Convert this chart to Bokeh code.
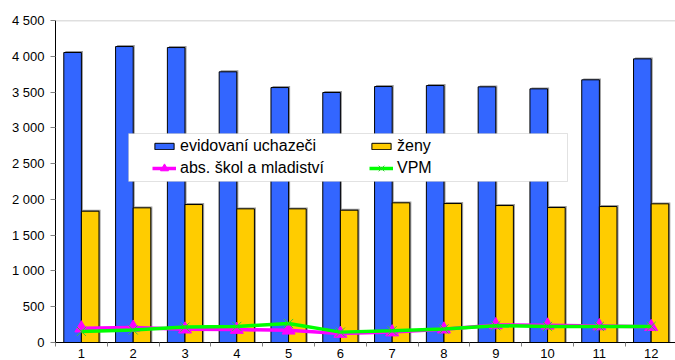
from bokeh.plotting import figure
from bokeh.models import FixedTicker, Legend, LegendItem, Span, ColumnDataSource, BoxAnnotation
from bokeh.embed import file_html
from bokeh.resources import INLINE
from bokeh.transform import dodge

months = [1, 2, 3, 4, 5, 6, 7, 8, 9, 10, 11, 12]
uchazeci = [4053, 4136, 4122, 3783, 3563, 3494, 3577, 3591, 3573, 3545, 3671, 3964]
zeny = [1835, 1882, 1928, 1868, 1868, 1849, 1952, 1942, 1914, 1886, 1900, 1938]
abs_skol = [200, 210, 185, 180, 170, 125, 145, 185, 245, 240, 230, 220]
vpm = [155, 175, 215, 225, 265, 145, 165, 190, 235, 225, 225, 225]
y_ticks = [0, 500, 1000, 1500, 2000, 2500, 3000, 3500, 4000, 4500]
y_tick_labels = ["0", "500", "1 000", "1 500", "2 000", "2 500", "3 000", "3 500", "4 000", "4 500"]
x_tick_labels = [str(m) for m in months]

src = ColumnDataSource(dict(
    m=months, u=uchazeci, z=zeny, a=abs_skol, v=vpm,
    us=[x + 20 for x in uchazeci], zs=[x + 20 for x in zeny],
))

FONT = "Liberation Sans"

p = figure(width=675, height=360, x_range=(0.5, 12.47), y_range=(0, 4500),
           output_backend="svg", toolbar_location=None,
           min_border_left=55, min_border_right=0, min_border_top=20, min_border_bottom=18)
p.outline_line_color = None
p.xgrid.grid_line_color = None
p.ygrid.grid_line_color = None
p.background_fill_color = "white"
p.border_fill_color = "white"

top_line = Span(location=4500, dimension="width", line_color="#c0c0c0", line_width=1.5)
p.add_layout(top_line)

# shadows
p.vbar(x=dodge("m", -0.14, range=p.x_range), top="us", width=0.34, source=src,
       fill_color="#9a9a9a", line_color=None)
p.vbar(x=dodge("m", 0.20, range=p.x_range), top="zs", width=0.34, source=src,
       fill_color="#9a9a9a", line_color=None)

b1 = p.vbar(x=dodge("m", -0.17, range=p.x_range), top="u", width=0.34, source=src,
            fill_color="#3366FF", line_color="black", line_width=1)
b2 = p.vbar(x=dodge("m", 0.17, range=p.x_range), top="z", width=0.34, source=src,
            fill_color="#FFCC00", line_color="black", line_width=1)

l1 = p.line(x="m", y="a", source=src, line_color="#FF00FF", line_width=3.5)
m1 = p.scatter(x="m", y="a", source=src, marker="triangle", size=13,
               fill_color="#FF00FF", line_color="#FF00FF")
l2 = p.line(x="m", y="v", source=src, line_color="#00FF00", line_width=3.5)
m2 = p.scatter(x="m", y="v", source=src, marker="x", size=13,
               line_color="#33cc33", line_width=1)

# axes
p.yaxis.ticker = FixedTicker(ticks=y_ticks)
p.yaxis.major_label_overrides = {t: l for t, l in zip(y_ticks, y_tick_labels)}
p.yaxis.axis_line_color = "black"
p.yaxis.major_tick_line_color = "#808080"
p.yaxis.major_tick_out = 5
p.yaxis.major_tick_in = 0
p.yaxis.minor_tick_line_color = None
p.yaxis.major_label_text_font = FONT
p.yaxis.major_label_text_font_size = "13px"
p.yaxis.major_label_text_color = "black"
p.yaxis.major_label_standoff = 6

p.xaxis.ticker = FixedTicker(ticks=months, minor_ticks=[m + 0.5 for m in [0] + months])
p.xaxis.major_label_overrides = {m: l for m, l in zip(months, x_tick_labels)}
p.xaxis.axis_line_color = "black"
p.xaxis.major_tick_line_color = None
p.xaxis.major_tick_out = 0
p.xaxis.major_tick_in = 0
p.xaxis.minor_tick_line_color = "#808080"
p.xaxis.minor_tick_out = 4
p.xaxis.minor_tick_in = 0
p.xaxis.major_label_text_font = FONT
p.xaxis.major_label_text_font_size = "13px"
p.xaxis.major_label_text_color = "black"
p.xaxis.major_label_standoff = 2

box = BoxAnnotation(left=128, right=567, top=133, bottom=181,
                    left_units="canvas", right_units="canvas",
                    top_units="canvas", bottom_units="canvas",
                    fill_color="white", fill_alpha=1.0,
                    line_color="#a0a0a0", line_width=1)
p.add_layout(box)


def make_legend(items, loc, gh):
    lg = Legend(items=items, location=loc, orientation="horizontal")
    lg.label_text_font = FONT
    lg.label_text_font_size = "16px"
    lg.label_text_color = "black"
    lg.label_width = 187
    lg.label_height = 20
    lg.glyph_width = 24
    lg.glyph_height = gh
    lg.label_standoff = 4
    lg.spacing = 2
    lg.padding = 0
    lg.margin = 0
    lg.border_line_color = None
    lg.background_fill_alpha = 0
    return lg


legend_bars = make_legend([
    LegendItem(label="evidovaní uchazeči", renderers=[b1]),
    LegendItem(label="ženy", renderers=[b2]),
], (97, 186), 8)
legend_lines = make_legend([
    LegendItem(label="abs. škol a mladiství", renderers=[l1, m1]),
    LegendItem(label="VPM", renderers=[l2, m2]),
], (97, 164), 20)
p.add_layout(legend_bars)
p.add_layout(legend_lines)

open("out.html", "w").write(file_html(p, INLINE))
